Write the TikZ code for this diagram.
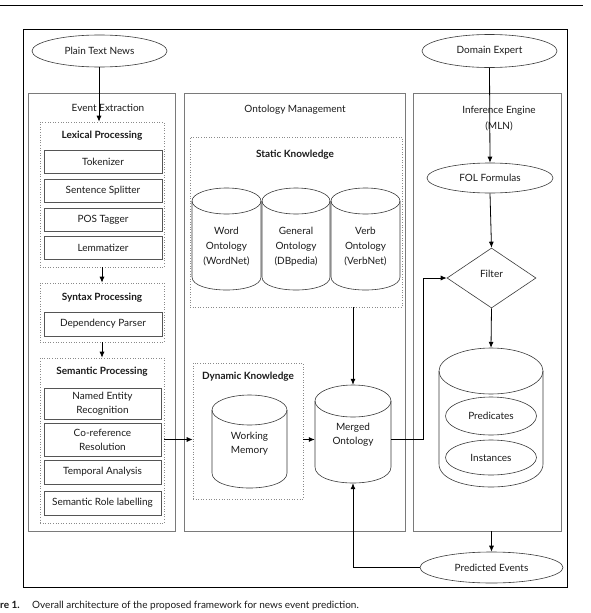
\documentclass[tikz,border=0pt]{standalone}
\usepackage{fontspec}
\setmainfont{Lato}
\usetikzlibrary{arrows.meta,shapes.geometric,calc}
\definecolor{txt}{HTML}{1A1A1A}
\definecolor{colgray}{HTML}{7A7A7A}
\definecolor{dotgray}{HTML}{8A8A8A}
\definecolor{boxgray}{HTML}{555555}
\definecolor{shpgray}{HTML}{3A3A3A}
\newcommand{\mycyl}[6]{%
 \pgfmathsetmacro{\mcX}{(#2+#3)/2}%
 \pgfmathsetmacro{\mrX}{(#3-#2)/2}%
 \pgfmathsetmacro{\mcY}{(#4+#5)/2}%
 \pgfmathsetmacro{\mhH}{#5-#4}%
 \pgfmathsetmacro{\mwW}{#3-#2}%
 \pgfmathsetmacro{\myB}{#5-#6}%
 \pgfmathsetmacro{\myC}{#5-#6+4/3*#6}%
 \pgfmathsetmacro{\myT}{#4+#6}%
 \node[cylhold, minimum width=\mwW pt, minimum height=\mhH pt] (#1) at (\mcX,\mcY) {};
 \draw[cylline] (\mcX,\myT) ellipse [x radius=\mrX pt, y radius=#6 pt];
 \draw[cylline] (#2,\myT) -- (#2,\myB) .. controls (#2,\myC) and (#3,\myC) .. (#3,\myB) -- (#3,\myT);
}
\begin{document}
\begin{tikzpicture}[x=1pt,y=-1pt,
  every node/.style={text=txt, font=\fontsize{10}{14}\selectfont, inner sep=0pt},
  colbox/.style={draw=colgray, line width=0.8pt, rectangle},
  dotbox/.style={draw=dotgray, line width=0.6pt, dotted, rectangle},
  subbox/.style={draw=boxgray, line width=0.6pt, rectangle, minimum width=118pt, align=center},
  ell/.style={draw=shpgray, line width=0.6pt, ellipse},
  cylhold/.style={draw=none, rectangle},
  cylline/.style={draw=shpgray, line width=0.6pt},
  ttl/.style={font=\fontsize{10}{14}\selectfont\bfseries},
  arr/.style={draw=black, line width=0.8pt, -{Latex[length=6pt,width=5pt]}},
  lnk/.style={draw=black, line width=0.6pt}
]
\useasboundingbox (0,0) rectangle (590,613);
% rule and frame
\draw[line width=0.8pt] (0,5) -- (583,5);
\node[draw=black, line width=0.9pt, minimum width=544pt, minimum height=558pt] (frame) at (295,308) {};

% columns
\node[colbox, minimum width=147pt, minimum height=438pt] (ee) at (101.5,312) {};
\node[colbox, minimum width=221pt, minimum height=438pt] (om) at (294.5,312) {};
\node[colbox, minimum width=148pt, minimum height=438pt] (ie) at (487,312) {};
\node (eeT) at (108,108) {Event Extraction};
\node (omT) at (295,110) {Ontology Management};
\node[align=center, font=\fontsize{10}{16}\selectfont] (ieT) at (499,119) {Inference Engine\\(MLN)};

% top ellipses
\node[ell, minimum width=135pt, minimum height=32pt] (ptn) at (99.5,51) {Plain Text News};
\node[ell, minimum width=135pt, minimum height=33pt] (de) at (489.5,51) {Domain Expert};
\node[ell, minimum width=126pt, minimum height=30pt] (fol) at (490,178) {FOL Formulas};

% lexical
\node[dotbox, minimum width=124pt, minimum height=145pt] (lex) at (102,194.5) {};
\node[ttl] (lexT) at (102,136) {Lexical Processing};
\node[subbox, minimum height=23pt] (tok) at (103,161.5) {Tokenizer};
\node[subbox, minimum height=23pt] (ss) at (103,190.5) {Sentence Splitter};
\node[subbox, minimum height=23pt] (pos) at (103,220) {POS Tagger};
\node[subbox, minimum height=23pt] (lem) at (103,248) {Lemmatizer};

% syntax
\node[dotbox, minimum width=124pt, minimum height=59pt] (syn) at (102,312.5) {};
\node[ttl] (synT) at (102,298) {Syntax Processing};
\node[subbox, minimum height=24pt] (dp) at (103,324) {Dependency Parser};

% semantic
\node[dotbox, minimum width=124pt, minimum height=165pt] (sem) at (102,440.5) {};
\node[ttl] (semT) at (102,372) {Semantic Processing};
\node[subbox, minimum width=117pt, minimum height=31pt] (ner) at (102.5,403.5) {Named Entity\\Recognition};
\node[subbox, minimum width=117pt, minimum height=33pt] (cor) at (102.5,439.5) {Co-reference\\Resolution};
\node[subbox, minimum width=117pt, minimum height=24pt] (tmp) at (102.5,472) {Temporal Analysis};
\node[subbox, minimum width=117pt, minimum height=24pt] (srl) at (102.5,503) {Semantic Role labelling};

% static knowledge
\node[dotbox, minimum width=212pt, minimum height=170pt] (stk) at (296,222) {};
\node[ttl] (stkT) at (295,155) {Static Knowledge};
\mycyl{wo}{192}{261}{188}{290}{13}
\mycyl{go}{262}{330}{188}{290}{13}
\mycyl{vo}{331}{400}{188}{290}{13}
\node[align=center, font=\fontsize{10}{15}\selectfont] (woT) at (226.5,247) {Word\\Ontology\\(WordNet)};
\node[align=center, font=\fontsize{10}{15}\selectfont] (goT) at (296,247) {General\\Ontology\\(DBpedia)};
\node[align=center, font=\fontsize{10}{15}\selectfont] (voT) at (365.5,247) {Verb\\Ontology\\(VerbNet)};

% dynamic knowledge
\node[dotbox, minimum width=110pt, minimum height=136pt] (dyn) at (248,431) {};
\node[ttl] (dynT) at (248,377) {Dynamic Knowledge};
\mycyl{wm}{212}{287}{395}{488}{15}
\node[align=center] (wmT) at (249.5,444) {Working\\Memory};

% merged
\mycyl{mo}{315}{391}{385}{483}{16}
\node[align=center] (moT) at (353,435) {Merged\\Ontology};

% filter
\node[draw=shpgray, line width=0.6pt, diamond, minimum width=89pt, minimum height=60pt] (flt) at (491.5,278) {};
\node (fltT) at (491.5,274) {Filter};

% big cylinder
\mycyl{kb}{439}{543}{348}{487}{23}
\node[ell, minimum width=91pt, minimum height=38pt] (pred) at (491,416) {Predicates};
\node[ell, minimum width=91pt, minimum height=35pt] (inst) at (491,457.5) {Instances};

% predicted events
\node[ell, minimum width=143pt, minimum height=31pt] (pe) at (491.5,567.5) {Predicted Events};

% caption
\node[anchor=base west, font=\fontsize{10}{12}\selectfont\bfseries] (capA) at (0,608) {re 1.};
\node[anchor=base west, font=\fontsize{10}{12}\selectfont] (capB) at (32,608) {Overall architecture of the proposed framework for news event prediction.};

% connectors
\draw[arr] (ptn.south -| 99,0) -- (99,0 |- lex.north);
\draw[arr] (lex.south) -- (syn.north);
\draw[arr] (syn.south) -- (sem.north);
\draw[arr] (cor.east -| sem.east) -- (cor.east -| dyn.west);
\draw[arr] (cor.east -| dyn.east) -- (cor.east -| mo.west);
\draw[arr] (mo.north |- stk.south) -- (mo.north);
\draw[arr] (de.south) -- (fol.north);
\draw[arr] (fol.south) -- (flt.north);
\draw[arr] (flt.south) -- (kb.north);
\draw[arr] (pe.north |- ie.south) -- (pe.north);
\draw[arr] (cor.east -| mo.east) -| (423,0 |- flt.west) -- (flt.west);
\draw[arr] (pe.west) -| (mo.south);
\end{tikzpicture}
\end{document}
